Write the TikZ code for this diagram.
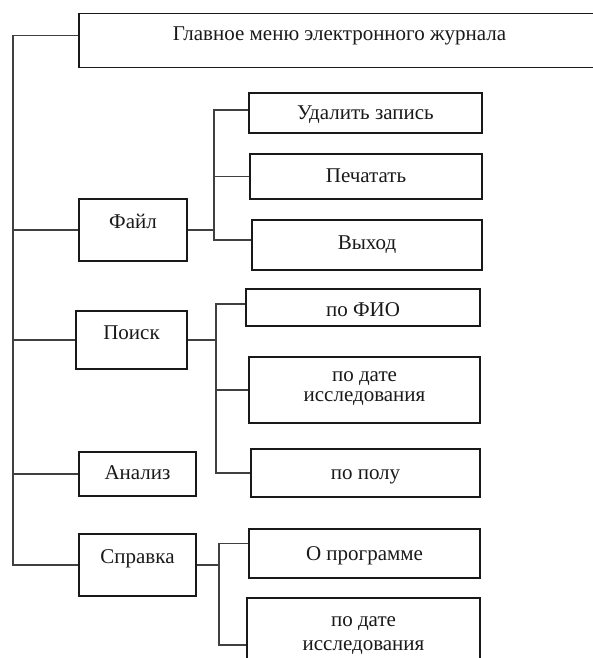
\documentclass[tikz,border=0pt]{standalone}
\usepackage{fontspec}
\setmainfont{Liberation Serif}
\begin{document}
\begin{tikzpicture}[x=1pt,y=-1pt,
  box/.style={draw=black!90, line width=1.7pt, inner sep=0pt, align=center,
    font=\fontsize{21}{20}\selectfont, text=black!90,
    text height=17pt, text depth=3pt},
  conn/.style={draw=black!75, line width=1.1pt}]
\useasboundingbox (0,0) rectangle (593,658);
\clip (0,0) rectangle (593,658);
% level 1
\node[box, minimum width=521pt, minimum height=54pt, text depth=17pt] (main) at (339.5,40.5) {Главное меню электронного журнала};
\node[box, minimum width=108pt, minimum height=62pt, text depth=21pt] (fajl) at (133,230) {Файл};
\node[box, minimum width=111pt, minimum height=58pt, text depth=19pt] (poisk) at (131.5,340) {Поиск};
\node[box, minimum width=117pt, minimum height=44pt, text depth=7pt] (analiz) at (137.5,474) {Анализ};
\node[box, minimum width=117pt, minimum height=62pt, text depth=21pt] (spravka) at (137.5,565) {Справка};
% level 2
\node[box, minimum width=233pt, minimum height=40pt, text depth=3pt] (udal) at (365.5,113) {Удалить запись};
\node[box, minimum width=232pt, minimum height=45pt, text depth=6pt] (pech) at (366,176.5) {Печатать};
\node[box, minimum width=230pt, minimum height=50pt, text depth=9pt] (vyh) at (367,245) {Выход};
\node[box, minimum width=234pt, minimum height=37pt, text depth=0pt] (fio) at (363,307.5) {по ФИО};
\node[box, minimum width=231pt, minimum height=66pt, text height=26.4pt, text depth=3pt] (data) at (364.5,390) {по дате\\исследования};
\node[box, minimum width=229pt, minimum height=48pt, text depth=5pt] (pol) at (365.5,473) {по полу};
\node[box, minimum width=231pt, minimum height=49pt, text depth=4pt] (opr) at (364.5,553.5) {О программе};
\node[box, minimum width=233pt, minimum height=69pt, font=\fontsize{21}{24}\selectfont, text height=38pt, text depth=3pt] (data2) at (363.5,632.5) {по дате\\исследования};
% trunk
\coordinate (trunk) at (13,0);
\draw[conn] ([yshift=5pt]main.west) -| (trunk |- spravka.west) -- (spravka.west);
\draw[conn] (trunk |- fajl.west) -- (fajl.west);
\draw[conn] (trunk |- poisk.west) -- (poisk.west);
\draw[conn] (trunk |- analiz.west) -- (analiz.west);
% Файл bracket
\coordinate (b1) at (214,0);
\draw[conn] (fajl.east) -- (b1 |- fajl.east);
\draw[conn] ([yshift=3pt]udal.west) -| ([yshift=5pt]b1 |- vyh.west) -- ([yshift=5pt]vyh.west);
\draw[conn] (b1 |- pech.west) -- (pech.west);
% Поиск bracket
\coordinate (b2) at (216,0);
\draw[conn] (poisk.east) -- (b2 |- poisk.east);
\draw[conn] ([yshift=3.5pt]fio.west) -| (b2 |- pol.west) -- (pol.west);
\draw[conn] (b2 |- data.west) -- (data.west);
% Справка bracket
\coordinate (b3) at (219,0);
\draw[conn] (spravka.east) -- (b3 |- spravka.east);
\draw[conn] ([yshift=10pt]opr.west) -| ([yshift=-12.5pt]b3 |- data2.west) -- ([yshift=-12.5pt]data2.west);
\end{tikzpicture}
\end{document}
